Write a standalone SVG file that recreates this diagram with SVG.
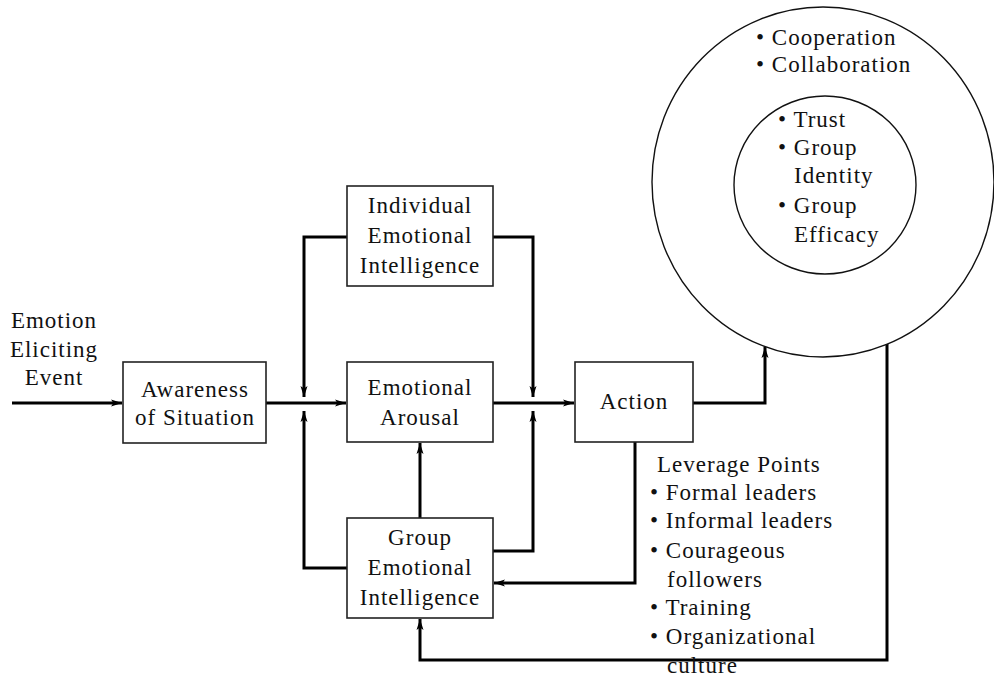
<svg xmlns="http://www.w3.org/2000/svg" width="994" height="692" viewBox="0 0 994 692">
<style>
text{font-family:"Liberation Serif","Noto Serif","DejaVu Serif","Times New Roman",Times,Tinos,serif;font-size:23px;fill:#111;letter-spacing:1px}
.c{text-anchor:middle}
.box{fill:#fff;stroke:#222;stroke-width:1.6}
.ring{fill:none;stroke:#111;stroke-width:1.4}
.ln{fill:none;stroke:#000;stroke-width:3}
</style>
<defs>
<marker id="ah" markerUnits="userSpaceOnUse" markerWidth="12" markerHeight="8" refX="11" refY="4" orient="auto">
<path d="M0,0.5 L11,4 L0,7.5 L2.5,4 Z" fill="#000"/>
</marker>
</defs>
<rect width="994" height="692" fill="#fff"/>

<g id="connectors">
<line class="ln" x1="12" y1="403" x2="122" y2="403" marker-end="url(#ah)"/>
<line class="ln" x1="266" y1="403" x2="346" y2="403" marker-end="url(#ah)"/>
<polyline class="ln" points="347,237 304,237 304,397" marker-end="url(#ah)"/>
<polyline class="ln" points="347,568 304,568 304,411" marker-end="url(#ah)"/>
<line class="ln" x1="493" y1="403" x2="574" y2="403" marker-end="url(#ah)"/>
<polyline class="ln" points="493,237 533,237 533,397" marker-end="url(#ah)"/>
<polyline class="ln" points="493,551 533,551 533,411" marker-end="url(#ah)"/>
<line class="ln" x1="420" y1="518" x2="420" y2="443" marker-end="url(#ah)"/>
<polyline class="ln" points="635,442 635,583 494,583" marker-end="url(#ah)"/>
<polyline class="ln" points="693,403 765,403 765,347" marker-end="url(#ah)"/>
<polyline class="ln" points="887,344 887,660 420,660 420,619" marker-end="url(#ah)"/>
</g>

<g id="event">
<text class="c" x="54" y="328">Emotion</text>
<text class="c" x="54" y="357">Eliciting</text>
<text class="c" x="54" y="385">Event</text>
</g>

<g id="awareness">
<rect class="box" x="123" y="362" width="143" height="81"/>
<text class="c" x="195" y="397">Awareness</text>
<text class="c" x="195" y="425">of Situation</text>
</g>

<g id="individual-ei">
<rect class="box" x="347" y="186" width="146" height="100"/>
<text class="c" x="420" y="213">Individual</text>
<text class="c" x="420" y="243">Emotional</text>
<text class="c" x="420" y="273">Intelligence</text>
</g>

<g id="arousal">
<rect class="box" x="347" y="362" width="146" height="80"/>
<text class="c" x="420" y="395">Emotional</text>
<text class="c" x="420" y="425">Arousal</text>
</g>

<g id="group-ei">
<rect class="box" x="347" y="518" width="146" height="100"/>
<text class="c" x="420" y="545">Group</text>
<text class="c" x="420" y="575">Emotional</text>
<text class="c" x="420" y="605">Intelligence</text>
</g>

<g id="action">
<rect class="box" x="575" y="362" width="118" height="80"/>
<text class="c" x="634" y="409">Action</text>
</g>

<g id="leverage">
<text x="657" y="472">Leverage Points</text>
<text x="650" y="500">• Formal leaders</text>
<text x="650" y="528">• Informal leaders</text>
<text x="650" y="558">• Courageous</text>
<text x="667" y="587">followers</text>
<text x="650" y="615">• Training</text>
<text x="650" y="644">• Organizational</text>
<text x="667" y="673">culture</text>
</g>

<g id="outcomes">
<ellipse class="ring" cx="823" cy="182" rx="171" ry="175"/>
<text x="756" y="45">• Cooperation</text>
<text x="756" y="72">• Collaboration</text>
</g>

<g id="core">
<ellipse class="ring" cx="825" cy="185" rx="91" ry="89"/>
<text x="778" y="127">• Trust</text>
<text x="778" y="155">• Group</text>
<text x="794" y="183">Identity</text>
<text x="778" y="213">• Group</text>
<text x="794" y="242">Efficacy</text>
</g>
</svg>
